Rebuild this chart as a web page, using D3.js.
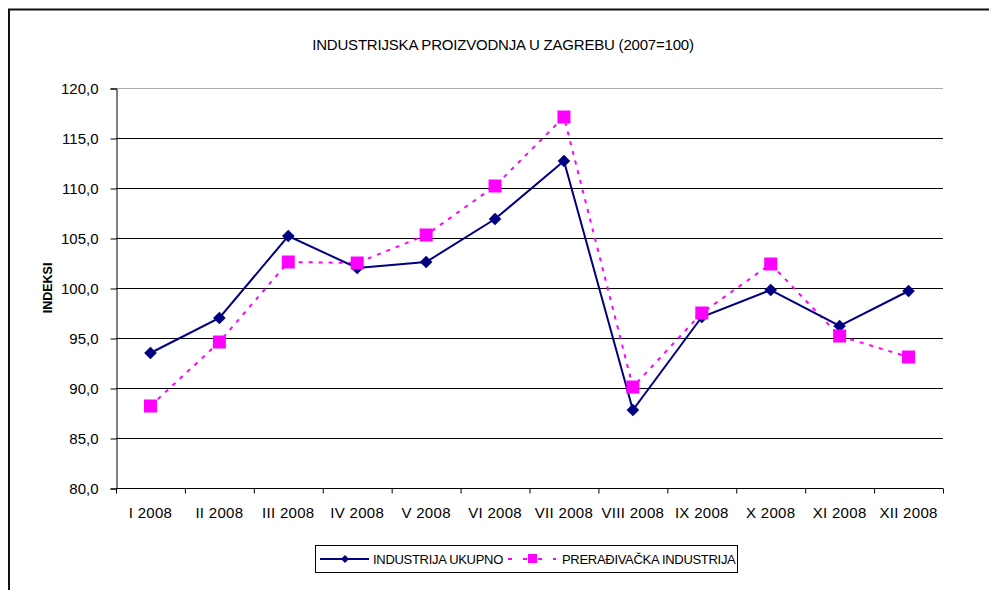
<!DOCTYPE html>
<html>
<head>
<meta charset="utf-8">
<script src="https://cdn.jsdelivr.net/npm/d3@7"></script>
<style>
  body { margin: 0; background: #fff; }
  svg text { font-family: "Liberation Sans", Arial, sans-serif; fill: #000; }
</style>
</head>
<body>
<svg id="chart" width="989" height="590"></svg>
<script>
var months = ["I 2008", "II 2008", "III 2008", "IV 2008", "V 2008", "VI 2008",
              "VII 2008", "VIII 2008", "IX 2008", "X 2008", "XI 2008", "XII 2008"];
var ukupno = [93.5, 97.0, 105.2, 102.0, 102.6, 106.9, 112.7, 87.8, 97.1, 99.8, 96.2, 99.7];
var preradivacka = [88.2, 94.6, 102.6, 102.5, 105.3, 110.2, 117.1, 90.1, 97.5, 102.4, 95.2, 93.1];
var yTicks = [80, 85, 90, 95, 100, 105, 110, 115, 120];

var svg = d3.select("#chart");

// outer frame (runs off the right and bottom)
svg.append("path")
    .attr("d", "M 9,600 L 9,9.5 L 1000,9.5")
    .attr("fill", "none")
    .attr("stroke", "#111")
    .attr("stroke-width", 2);

var plotLeft = 116, plotRight = 943, plotTop = 88, plotBottom = 488;

var x = d3.scaleBand().domain(months).range([plotLeft, plotRight]);
var y = d3.scaleLinear().domain([80, 120]).range([plotBottom, plotTop]);

svg.append("text")
    .attr("x", 503)
    .attr("y", 50)
    .attr("text-anchor", "middle")
    .style("font-size", "15px")
    .style("letter-spacing", "-0.2px")
    .text("INDUSTRIJSKA PROIZVODNJA U ZAGREBU (2007=100)");

// grid lines
svg.append("g").selectAll("line")
    .data(yTicks.slice(1))
    .join("line")
    .attr("x1", plotLeft)
    .attr("x2", plotRight)
    .attr("y1", function (d) { return Math.round(y(d)) + 0.5; })
    .attr("y2", function (d) { return Math.round(y(d)) + 0.5; })
    .attr("stroke", function (d) { return d == 120 ? "#aaa" : "#000"; })
    .attr("stroke-width", 1);

var yAxis = svg.append("g")
    .attr("transform", "translate(" + (plotLeft + 0.5) + ",0.5)")
    .call(d3.axisLeft(y).tickValues(yTicks).tickSize(6).tickPadding(12)
        .tickFormat(function (d) { return d3.format(".1f")(d).replace(".", ","); }));
yAxis.selectAll("text").style("font-size", "15px").style("font-family", "Liberation Sans, Arial, sans-serif");
yAxis.select(".domain").attr("stroke", "#000");

var xAxis = svg.append("g")
    .attr("transform", "translate(0," + (plotBottom + 0.5) + ")")
    .call(d3.axisBottom(x).tickSize(0).tickPadding(19));
xAxis.selectAll("text").style("font-size", "15px").style("font-family", "Liberation Sans, Arial, sans-serif")
    .style("letter-spacing", "0.3px");
xAxis.select(".domain").attr("d", "M" + plotLeft + ",0H" + plotRight).attr("stroke", "#000");

// category separator ticks
xAxis.append("g").selectAll("line")
    .data(months.concat(["end"]))
    .join("line")
    .attr("x1", function (d, i) { return plotLeft + i * x.step() + 0.5; })
    .attr("x2", function (d, i) { return plotLeft + i * x.step() + 0.5; })
    .attr("y1", 0)
    .attr("y2", 5)
    .attr("stroke", "#000");

svg.append("text")
    .attr("transform", "translate(52," + y(100) + ") rotate(-90)")
    .attr("text-anchor", "middle")
    .style("font-size", "12.5px")
    .style("font-weight", "bold")
    .text("INDEKSI");

function cx(d, i) { return x(months[i]) + x.bandwidth() / 2; }

var line = d3.line()
    .x(function (d, i) { return cx(d, i); })
    .y(function (d) { return y(d); });

// pink dashed series
svg.append("path")
    .datum(preradivacka)
    .attr("d", line)
    .attr("fill", "none")
    .attr("stroke", "#ff00ff")
    .attr("stroke-width", 2)
    .attr("stroke-dasharray", "4,6");

// navy solid series
svg.append("path")
    .datum(ukupno)
    .attr("d", line)
    .attr("fill", "none")
    .attr("stroke", "#000080")
    .attr("stroke-width", 2);

svg.append("g").selectAll("path")
    .data(ukupno)
    .join("path")
    .attr("d", d3.symbol(d3.symbolSquare, 80))
    .attr("transform", function (d, i) { return "translate(" + cx(d, i) + "," + y(d) + ") rotate(45)"; })
    .attr("fill", "#000080");

svg.append("g").selectAll("rect")
    .data(preradivacka)
    .join("rect")
    .attr("x", function (d, i) { return cx(d, i) - 6.5; })
    .attr("y", function (d) { return y(d) - 6.5; })
    .attr("width", 13)
    .attr("height", 13)
    .attr("fill", "#ff00ff");

// legend
var legend = svg.append("g");
legend.append("rect")
    .attr("x", 315.5).attr("y", 545.5)
    .attr("width", 422).attr("height", 27)
    .attr("fill", "#fff").attr("stroke", "#000");

legend.append("line")
    .attr("x1", 320).attr("x2", 369).attr("y1", 559).attr("y2", 559)
    .attr("stroke", "#000080").attr("stroke-width", 2);
legend.append("path")
    .attr("d", d3.symbol(d3.symbolSquare, 32))
    .attr("transform", "translate(345,559) rotate(45)")
    .attr("fill", "#000080");
legend.append("text")
    .attr("x", 373).attr("y", 564)
    .style("font-size", "13px")
    .style("letter-spacing", "-0.3px")
    .text("INDUSTRIJA UKUPNO");

legend.append("line")
    .attr("x1", 508).attr("x2", 556).attr("y1", 559).attr("y2", 559)
    .attr("stroke", "#ff00ff").attr("stroke-width", 2)
    .attr("stroke-dasharray", "4,11");
legend.append("rect")
    .attr("x", 528).attr("y", 554).attr("width", 9).attr("height", 9)
    .attr("fill", "#ff00ff");
legend.append("text")
    .attr("x", 562).attr("y", 564)
    .style("font-size", "13px")
    .style("letter-spacing", "-0.3px")
    .text("PRERAĐIVAČKA INDUSTRIJA");
</script>
</body>
</html>
